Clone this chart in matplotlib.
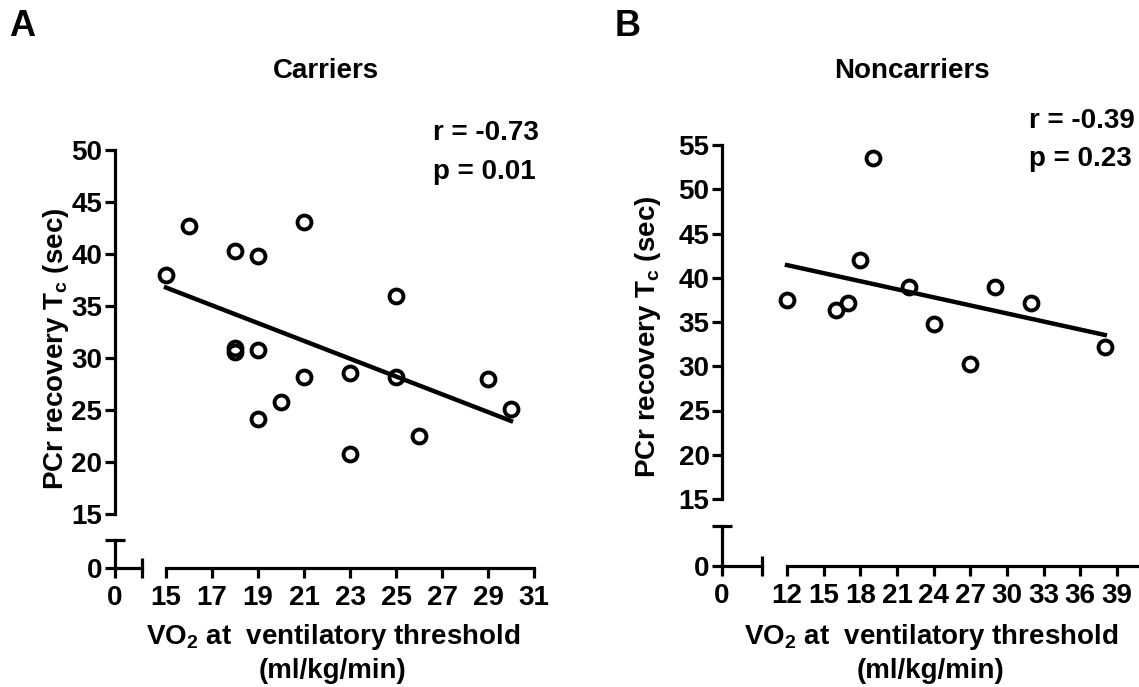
import numpy as np
import matplotlib
matplotlib.use('Agg')
import matplotlib.pyplot as plt
from matplotlib.ticker import FixedLocator

plt.rcParams['font.family'] = ['Liberation Sans', 'DejaVu Sans']
plt.rcParams['font.weight'] = 'bold'
plt.rcParams['mathtext.fontset'] = 'custom'
plt.rcParams['mathtext.bf'] = 'Liberation Sans:bold'
plt.rcParams['mathtext.rm'] = 'Liberation Sans:bold'
plt.rcParams['mathtext.default'] = 'bf'

# Carriers
x_car = [15, 16, 18, 19, 21, 25, 18, 18, 19, 21, 23, 25, 29, 20, 19, 30, 23, 26]
y_car = [38.0, 42.7, 40.3, 39.8, 43.1, 36.0, 31.0, 30.6, 30.8, 28.2, 28.6, 28.2,
         28.0, 25.8, 24.1, 25.1, 20.8, 22.5]
# Noncarriers
x_non = [12, 19, 18, 16, 17, 22, 24, 27, 29, 32, 38]
y_non = [37.5, 53.5, 42.0, 36.3, 37.2, 38.9, 34.8, 30.2, 39.0, 37.1, 32.2]

xticks_car = [15, 17, 19, 21, 23, 25, 27, 29, 31]
yticks_car = [15, 20, 25, 30, 35, 40, 45, 50]
xticks_non = [12, 15, 18, 21, 24, 27, 30, 33, 36, 39]
yticks_non = [15, 20, 25, 30, 35, 40, 45, 50, 55]

W, H = 1139, 687
FS = 20
LW = 2.3
PT = 72 / 100  # points per pixel


def rect(l, t, r, b):
    return [l / W, 1 - b / H, (r - l) / W, (b - t) / H]


def ftext(x, y, s, **kw):
    fig.text(x / W, 1 - y / H, s, fontsize=kw.pop('fontsize', FS), fontweight='bold', **kw)


def style_ticks(a):
    a.tick_params(which='major', direction='out', length=7, width=LW, labelsize=FS)
    a.tick_params(axis='x', which='major', pad=5.5)
    a.tick_params(axis='y', which='major', pad=2)
    a.tick_params(which='minor', direction='inout', length=14, width=LW)
    for lab in a.get_xticklabels() + a.get_yticklabels():
        lab.set_fontweight('bold')


def panel(box, corner, xlim, ylim, xticks, yticks, xs, ys):
    l, t, r, b = box
    ax = fig.add_axes(rect(l, t, r, b))
    ax.set_xlim(xlim)
    ax.set_ylim(ylim)
    for s in ['top', 'right']:
        ax.spines[s].set_visible(False)
    ax.spines['left'].set_position(('outward', (l - corner[0]) * PT))
    ax.spines['bottom'].set_position(('outward', (corner[3] - b) * PT))
    ax.spines['left'].set_linewidth(LW)
    ax.spines['bottom'].set_linewidth(LW)
    ax.set_xticks(xticks)
    ax.set_yticks(yticks)
    ax.xaxis.set_minor_locator(FixedLocator([xlim[0]]))
    ax.yaxis.set_minor_locator(FixedLocator([ylim[0]]))
    style_ticks(ax)

    # regression line
    k, c = np.polyfit(xs, ys, 1)
    xx = np.array([min(xs), max(xs)])
    ax.plot(xx, k * xx + c, color='black', lw=3.2, clip_on=False, zorder=2)
    ax.plot(xs, ys, 'o', ms=10, mfc='none', mec='black', mew=2.8, clip_on=False, zorder=3)

    # lower-left corner segment of the broken axes
    cl, ct, cr, cb = corner
    cx = fig.add_axes(rect(cl, ct, cr, cb))
    cx.patch.set_visible(False)
    cx.set_xlim(0, 1)
    cx.set_ylim(0, 1)
    for s in ['top', 'right']:
        cx.spines[s].set_visible(False)
    cx.spines['left'].set_linewidth(LW)
    cx.spines['bottom'].set_linewidth(LW)
    cx.set_xticks([0])
    cx.set_yticks([0])
    cx.xaxis.set_minor_locator(FixedLocator([1]))
    cx.yaxis.set_minor_locator(FixedLocator([1]))
    style_ticks(cx)
    return ax


fig = plt.figure(figsize=(W / 100, H / 100), dpi=100)

panel((166, 150, 534, 514), (115, 540, 142, 568), (15, 31), (15, 50),
      xticks_car, yticks_car, x_car, y_car)
panel((787, 145, 1139, 499), (722, 526, 762, 566), (12, 40.8), (15, 55),
      xticks_non, yticks_non, x_non, y_non)

ylab = 'PCr recovery T$_{c}$ (sec)'
xlab1 = 'VO$_{2}$ at  ventilatory threshold'
xlab2 = '(ml/kg/min)'

ftext(22, 26, 'A', fontsize=26, ha='center', va='center')
ftext(628, 26, 'B', fontsize=26, ha='center', va='center')
ftext(326, 71, 'Carriers', ha='center', va='center')
ftext(912, 71, 'Noncarriers', ha='center', va='center')
ftext(433, 133, 'r = -0.73', ha='left', va='center')
ftext(433, 172, 'p = 0.01', ha='left', va='center')
ftext(1029, 121, 'r = -0.39', ha='left', va='center')
ftext(1029, 159, 'p = 0.23', ha='left', va='center')
ftext(56, 349, ylab, rotation=90, ha='center', va='center')
ftext(648, 337, ylab, rotation=90, ha='center', va='center')
ftext(333, 637, xlab1, ha='center', va='center')
ftext(333, 671, xlab2, ha='center', va='center')
ftext(931, 637, xlab1, ha='center', va='center')
ftext(931, 671, xlab2, ha='center', va='center')

fig.savefig('out.png', dpi=100)
